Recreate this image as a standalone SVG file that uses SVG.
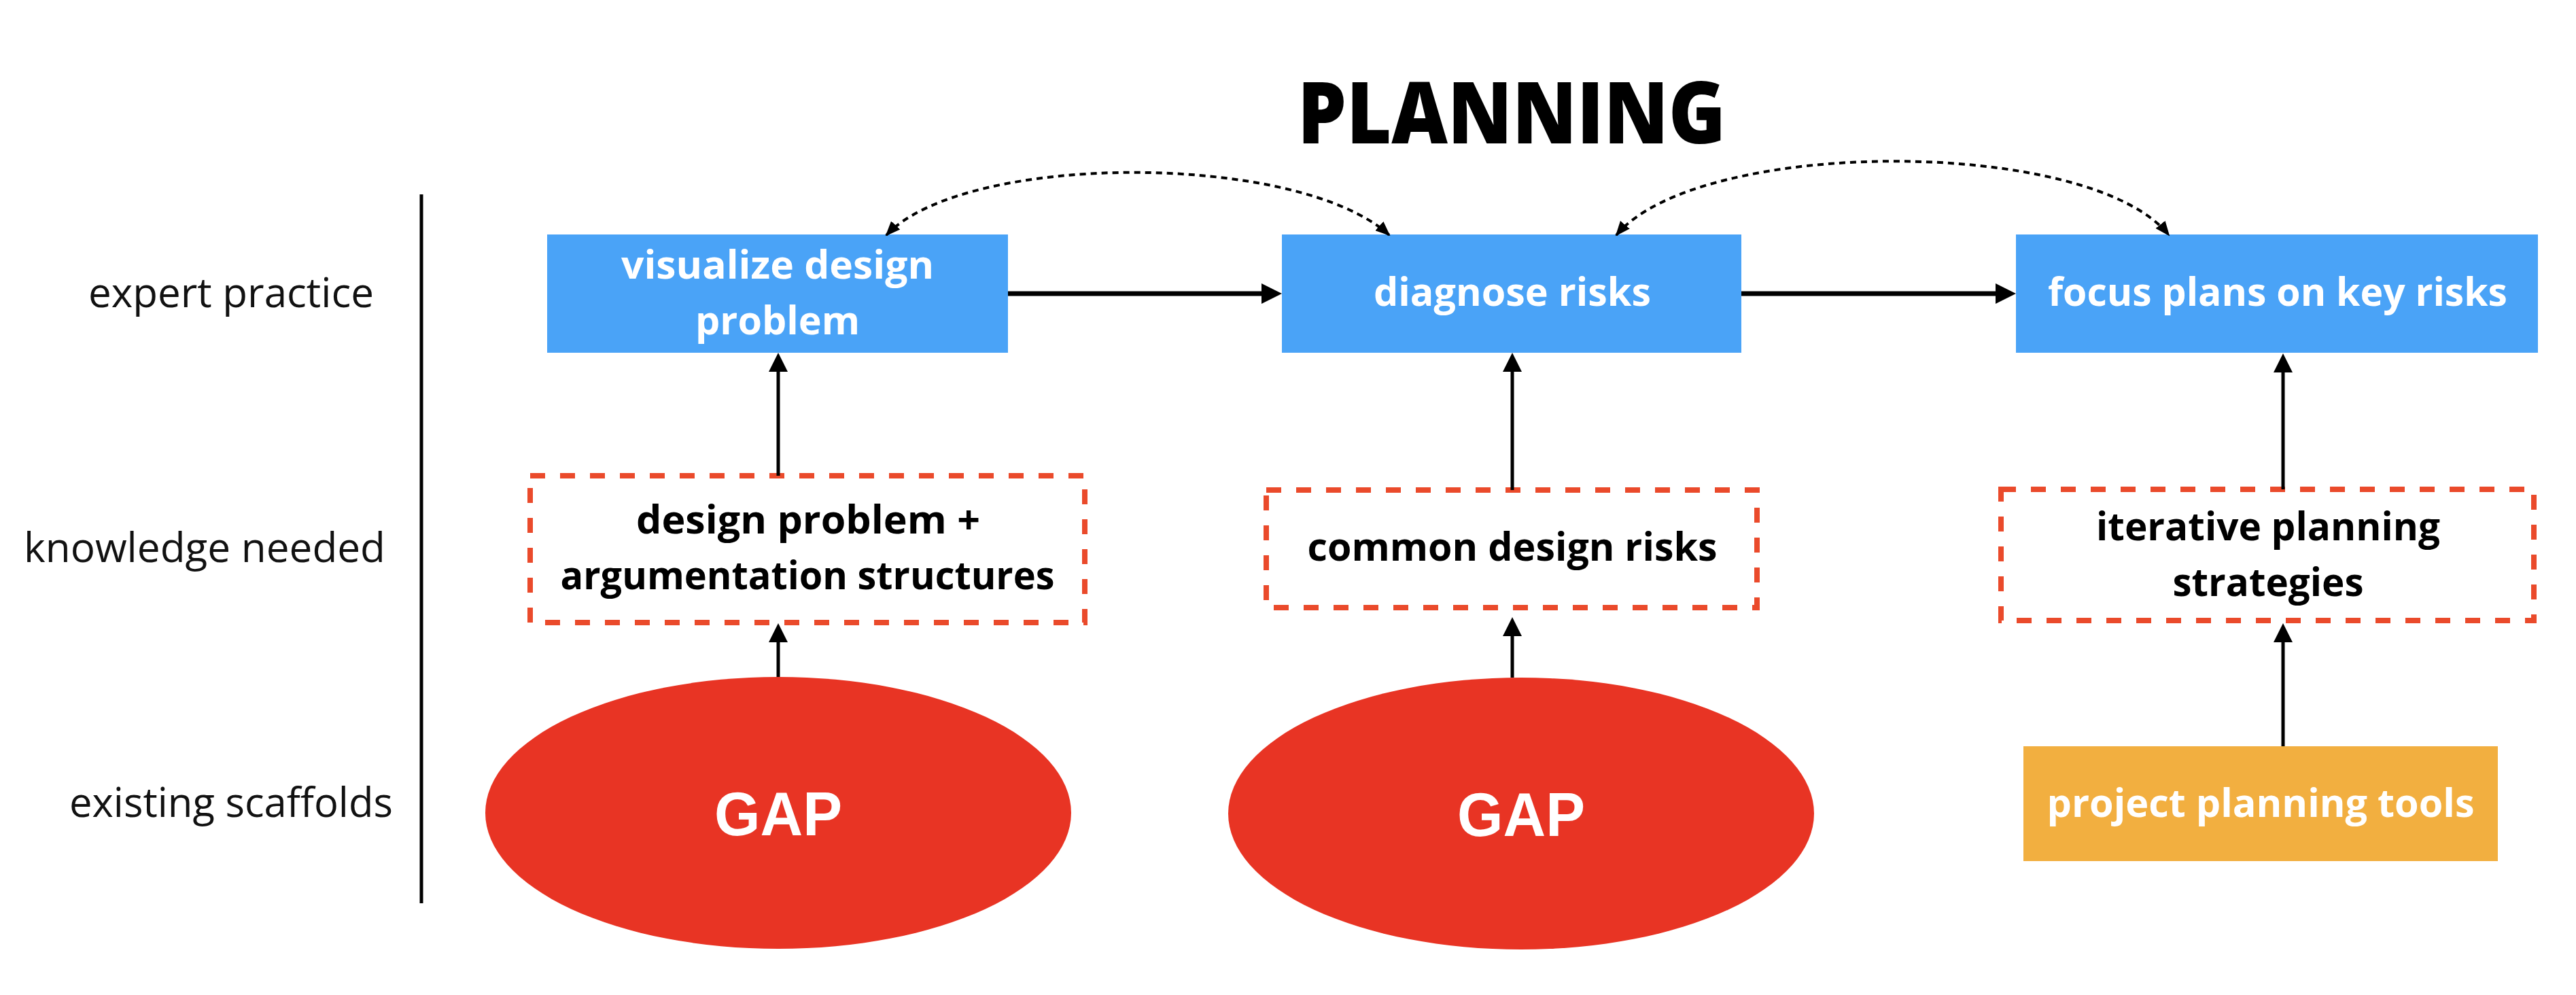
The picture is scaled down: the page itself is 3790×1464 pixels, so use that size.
<svg xmlns="http://www.w3.org/2000/svg" width="3790" height="1464" viewBox="0 0 3790 1464">
<style>
.blue{fill:#4AA3F7}
.kbox{fill:none;stroke:#EA4A2B;stroke-width:8;stroke-dasharray:22 22}
.gap{fill:#E83424}
.tool{fill:#F2AF40}
.wt{font-family:"Open Sans","Liberation Sans",sans-serif;font-weight:700;font-size:57px;fill:#fff;text-anchor:middle}
.bt{font-family:"Open Sans","Liberation Sans",sans-serif;font-weight:700;font-size:57px;fill:#000;text-anchor:middle}
.lbl{font-family:"Open Sans","Liberation Sans",sans-serif;font-weight:500;font-size:60px;fill:#111}
.gapt{font-family:"Liberation Sans",Arial,sans-serif;font-weight:700;font-size:90px;fill:#fff;text-anchor:middle}
.title{font-family:"Open Sans","Liberation Sans",sans-serif;font-weight:800;font-size:126px;fill:#000;text-anchor:middle}
.solidH{stroke:#000;stroke-width:7;fill:none}
.solidV{stroke:#000;stroke-width:5;fill:none}
.dotted{stroke:#000;stroke-width:4;fill:none;stroke-dasharray:9 7}
</style>
<defs>
<marker id="arrowH" markerUnits="userSpaceOnUse" markerWidth="30" markerHeight="30" refX="10" refY="15" orient="auto">
<path d="M0,0 L30,15 L0,30 Z" fill="#000"/>
</marker>
<marker id="arrowV" markerUnits="userSpaceOnUse" markerWidth="28" markerHeight="28" refX="8" refY="14" orient="auto">
<path d="M0,0 L28,14 L0,28 Z" fill="#000"/>
</marker>
<marker id="arrowD" markerUnits="userSpaceOnUse" markerWidth="22" markerHeight="18" refX="20" refY="9" orient="auto-start-reverse">
<path d="M0,0 L22,9 L0,18 Z" fill="#000"/>
</marker>
</defs>
<rect width="3790" height="1464" fill="#fff"/>

<g id="title">
<text class="title" x="2224" y="211" textLength="630" lengthAdjust="spacingAndGlyphs">PLANNING</text>
</g>

<g id="row-labels">
<text class="lbl" x="130" y="452" textLength="420" lengthAdjust="spacingAndGlyphs">expert practice</text>
<text class="lbl" x="35" y="827" textLength="532" lengthAdjust="spacingAndGlyphs">knowledge needed</text>
<text class="lbl" x="102" y="1202" textLength="476" lengthAdjust="spacingAndGlyphs">existing scaffolds</text>
<line x1="620" y1="286" x2="620" y2="1329" stroke="#000" stroke-width="5"/>
</g>

<g id="visualize">
<rect class="blue" x="805" y="345" width="678" height="174"/>
<text class="wt" x="1144" y="410" textLength="460" lengthAdjust="spacingAndGlyphs">visualize design</text>
<text class="wt" x="1144" y="492" textLength="242" lengthAdjust="spacingAndGlyphs">problem</text>
</g>
<g id="diagnose">
<rect class="blue" x="1886" y="345" width="676" height="174"/>
<text class="wt" x="2225" y="450" textLength="408" lengthAdjust="spacingAndGlyphs">diagnose risks</text>
</g>
<g id="focus">
<rect class="blue" x="2966" y="345" width="768" height="174"/>
<text class="wt" x="3351" y="450" textLength="676" lengthAdjust="spacingAndGlyphs">focus plans on key risks</text>
</g>

<g id="k-design">
<rect class="kbox" x="780" y="700" width="816" height="216"/>
<text class="bt" x="1189" y="785" textLength="506" lengthAdjust="spacingAndGlyphs">design problem +</text>
<text class="bt" x="1188" y="867" textLength="727" lengthAdjust="spacingAndGlyphs">argumentation structures</text>
</g>
<g id="k-risks">
<rect class="kbox" x="1863" y="721" width="722" height="173"/>
<text class="bt" x="2225" y="825" textLength="603" lengthAdjust="spacingAndGlyphs">common design risks</text>
</g>
<g id="k-iterative">
<rect class="kbox" x="2944" y="720" width="784" height="193"/>
<text class="bt" x="3337" y="795" textLength="506" lengthAdjust="spacingAndGlyphs">iterative planning</text>
<text class="bt" x="3337" y="877" textLength="281" lengthAdjust="spacingAndGlyphs">strategies</text>
</g>

<g id="gap1">
<ellipse class="gap" cx="1145" cy="1196" rx="431" ry="200"/>
<text class="gapt" x="1145" y="1229" textLength="188" lengthAdjust="spacingAndGlyphs">GAP</text>
</g>
<g id="gap2">
<ellipse class="gap" cx="2238" cy="1197" rx="431" ry="200"/>
<text class="gapt" x="2238" y="1230" textLength="188" lengthAdjust="spacingAndGlyphs">GAP</text>
</g>
<g id="tools">
<rect class="tool" x="2977" y="1098" width="698" height="169"/>
<text class="wt" x="3326" y="1202" textLength="629" lengthAdjust="spacingAndGlyphs">project planning tools</text>
</g>

<g id="connectors">
<path class="solidH" d="M1483,432 L1866,432" marker-end="url(#arrowH)"/>
<path class="solidH" d="M2562,432 L2946,432" marker-end="url(#arrowH)"/>
<path class="solidV" d="M1145,700 L1145,539" marker-end="url(#arrowV)"/>
<path class="solidV" d="M1145,996 L1145,937" marker-end="url(#arrowV)"/>
<path class="solidV" d="M2225,721 L2225,539" marker-end="url(#arrowV)"/>
<path class="solidV" d="M2225,997 L2225,928" marker-end="url(#arrowV)"/>
<path class="solidV" d="M3359,720 L3359,540" marker-end="url(#arrowV)"/>
<path class="solidV" d="M3359,1098 L3359,937" marker-end="url(#arrowV)"/>
<path class="dotted" d="M1304,346 C1420,223 1910,223 2044,346" marker-start="url(#arrowD)" marker-end="url(#arrowD)"/>
<path class="dotted" d="M2378,346 C2500,201 3075,201 3191,346" marker-start="url(#arrowD)" marker-end="url(#arrowD)"/>
</g>
</svg>
